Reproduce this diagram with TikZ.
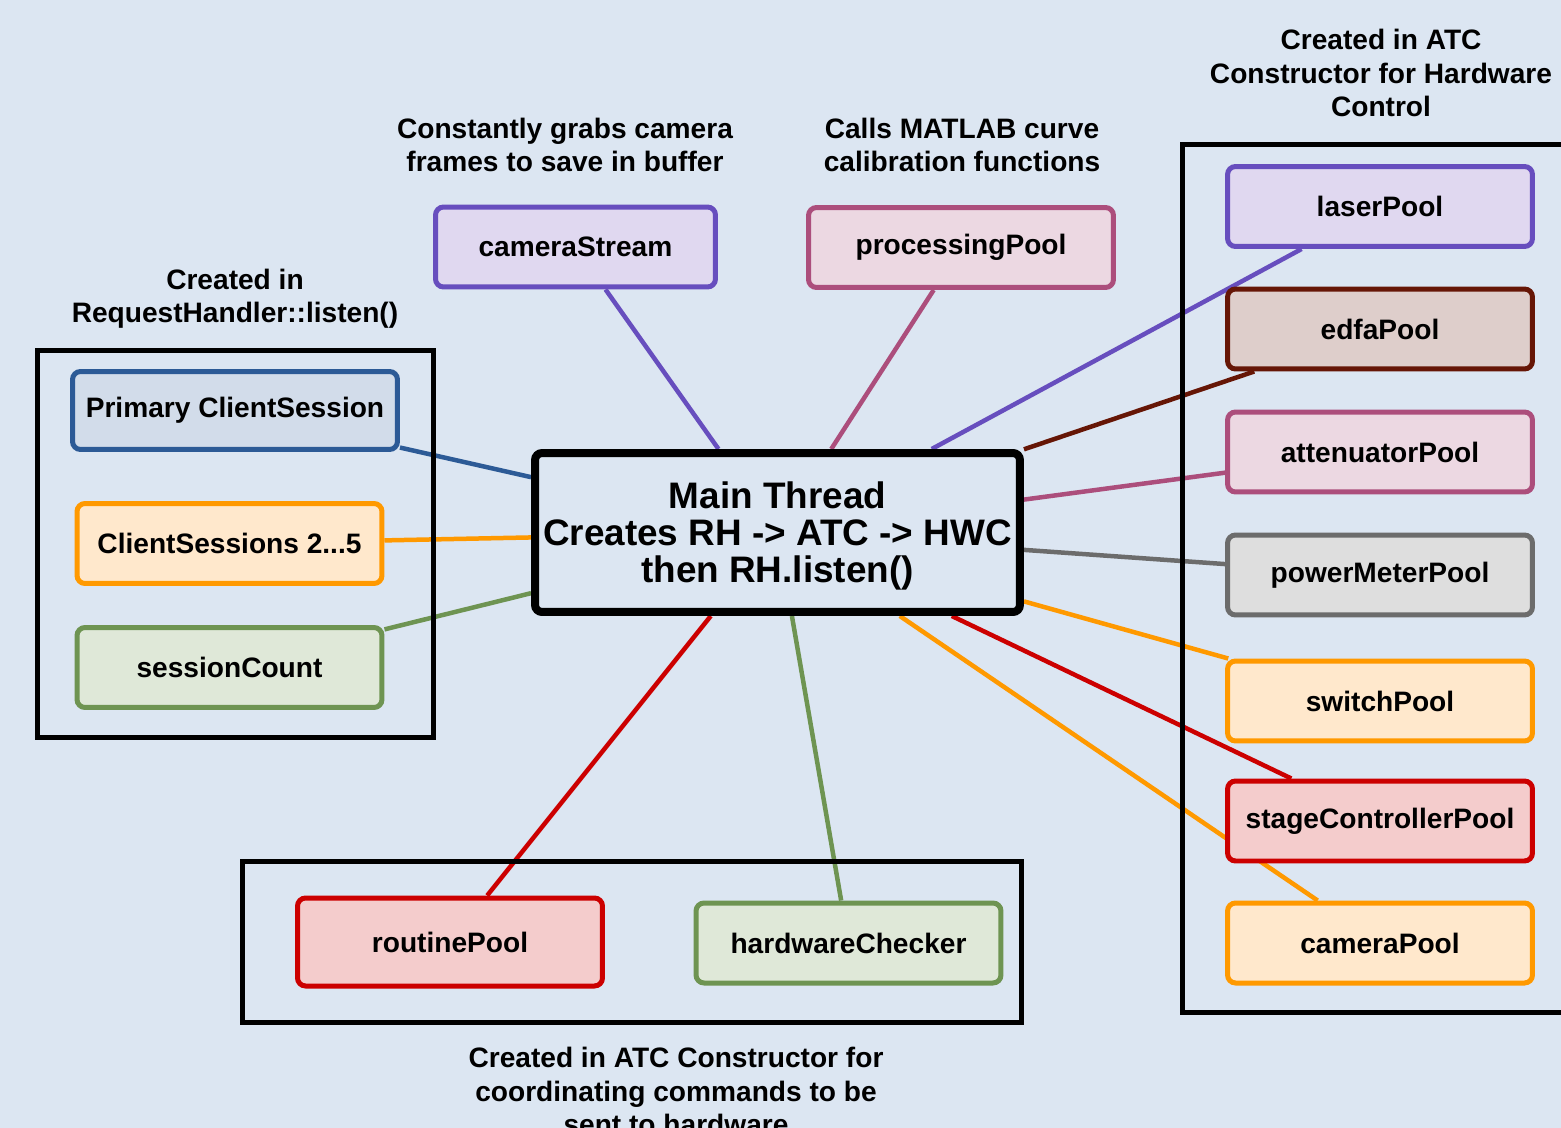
\documentclass[tikz,border=0pt]{standalone}
\usepackage{fontspec}
\setmainfont{Liberation Sans}
\pgfdeclarelayer{bg}
\pgfdeclarelayer{edges}
\pgfsetlayers{bg,edges,main}
\definecolor{canvas}{RGB}{220,230,242}
\definecolor{blueline}{RGB}{44,90,150}
\definecolor{bluefill}{RGB}{210,220,234}
\definecolor{orangeline}{RGB}{255,153,0}
\definecolor{orangefill}{RGB}{255,232,204}
\definecolor{greenline}{RGB}{110,148,82}
\definecolor{greenfill}{RGB}{223,232,216}
\definecolor{purpleline}{RGB}{103,78,190}
\definecolor{purplefill}{RGB}{224,216,240}
\definecolor{pinkline}{RGB}{172,78,124}
\definecolor{pinkfill}{RGB}{236,216,226}
\definecolor{brownline}{RGB}{102,22,6}
\definecolor{brownfill}{RGB}{222,206,203}
\definecolor{greyline}{RGB}{108,108,108}
\definecolor{greyfill}{RGB}{222,222,222}
\definecolor{redline}{RGB}{204,0,0}
\definecolor{redfill}{RGB}{244,204,204}

\begin{document}
\begin{tikzpicture}[x=0.02cm,y=-0.02cm,
  every node/.append style={font=\fontsize{16}{19}\selectfont\bfseries,text=black},
  pool/.style={draw=#1line,fill=#1fill,line width=0.1cm,rounded corners=0.16cm,
    minimum width=6.1cm,minimum height=1.6cm,inner sep=0pt},
  link/.style={line width=0.09cm,draw=#1line}]
  \tikzstyle{group} = [draw=black,line width=0.1cm,inner sep=0pt]
  \tikzstyle{note} = [align=center,inner sep=0pt]
  \clip (0,0) rectangle (1561,1128);
  \begin{pgfonlayer}{bg}
    \fill[canvas] (0,0) rectangle (1561,1128);
  \end{pgfonlayer}
  % main thread
  \node (main) [draw=black,fill=canvas,line width=0.16cm,rounded corners=0.14cm,
    minimum width=9.7cm,minimum height=3.18cm,align=center,inner sep=0pt,text depth=0pt,
    font=\fontsize{21}{21}\selectfont\bfseries] at (777.5,532.5)
    {Main Thread\\Creates RH -> ATC -> HWC\\then RH.listen()};
  % client sessions
  \node (rhgroup) [group,minimum width=7.92cm,minimum height=7.74cm] at (235.5,544) {};
  \node (rhnote) [note] at (235,299) {Created in\\RequestHandler::listen()};
  \node (primary) [pool=blue,minimum width=6.5cm,minimum height=1.56cm] at (235,410.5) {Primary ClientSession};
  \node (clients) [pool=orange] at (229.5,543.5) {ClientSessions 2...5};
  \node (count) [pool=green] at (229.5,667.5) {sessionCount};
  % top threads
  \node (camstream) [pool=purple,minimum width=5.6cm] at (575.5,247) {cameraStream};
  \node (camnote) [note] at (565,145) {Constantly grabs camera\\frames to save in buffer};
  \node (procpool) [pool=pink] at (961,247.5) {processingPool};
  \node (procnote) [note] at (962,145) {Calls MATLAB curve\\calibration functions};
  % hardware control
  \node (hwgroup) [group,minimum width=8.36cm,minimum height=17.38cm] at (1391,578.5) {};
  \node (hwnote) [note] at (1381,73) {Created in ATC\\Constructor for Hardware\\Control};
  \node (laser) [pool=purple] at (1380,206.5) {laserPool};
  \node (edfa) [pool=brown] at (1380,329) {edfaPool};
  \node (atten) [pool=pink] at (1380,452) {attenuatorPool};
  \node (power) [pool=grey] at (1380,575) {powerMeterPool};
  \node (switch) [pool=orange] at (1380,701) {switchPool};
  \node (stage) [pool=red] at (1380,821) {stageControllerPool};
  \node (campool) [pool=orange] at (1380,943) {cameraPool};
  % coordinating
  \node (atcgroup) [group,minimum width=15.58cm,minimum height=3.22cm] at (632,942) {};
  \node (routine) [pool=red,minimum height=1.76cm] at (450,942) {routinePool};
  \node (hwcheck) [pool=green] at (848.5,943) {hardwareChecker};
  \node (atcnote) [note] at (676,1091) {Created in ATC Constructor for\\coordinating commands to be\\sent to hardware};
  % connectors
  \begin{pgfonlayer}{edges}
    \draw[link=blue] (primary) -- (main);
    \draw[link=orange] (clients) -- (main);
    \draw[link=green] (count) -- (main);
    \draw[link=purple] (camstream) -- (main);
    \draw[link=pink] (procpool) -- (main);
    \draw[link=purple] (laser) -- (main);
    \draw[link=brown] (edfa) -- (main);
    \draw[link=pink] (atten) -- (main);
    \draw[link=grey] (power) -- (main);
    \draw[link=orange] (switch) -- (main);
    \draw[link=red] (stage) -- (main);
    \draw[link=orange] (campool) -- (main);
    \draw[link=red] (routine) -- (main);
    \draw[link=green] (hwcheck) -- (main);
  \end{pgfonlayer}
\end{tikzpicture}
\end{document}
